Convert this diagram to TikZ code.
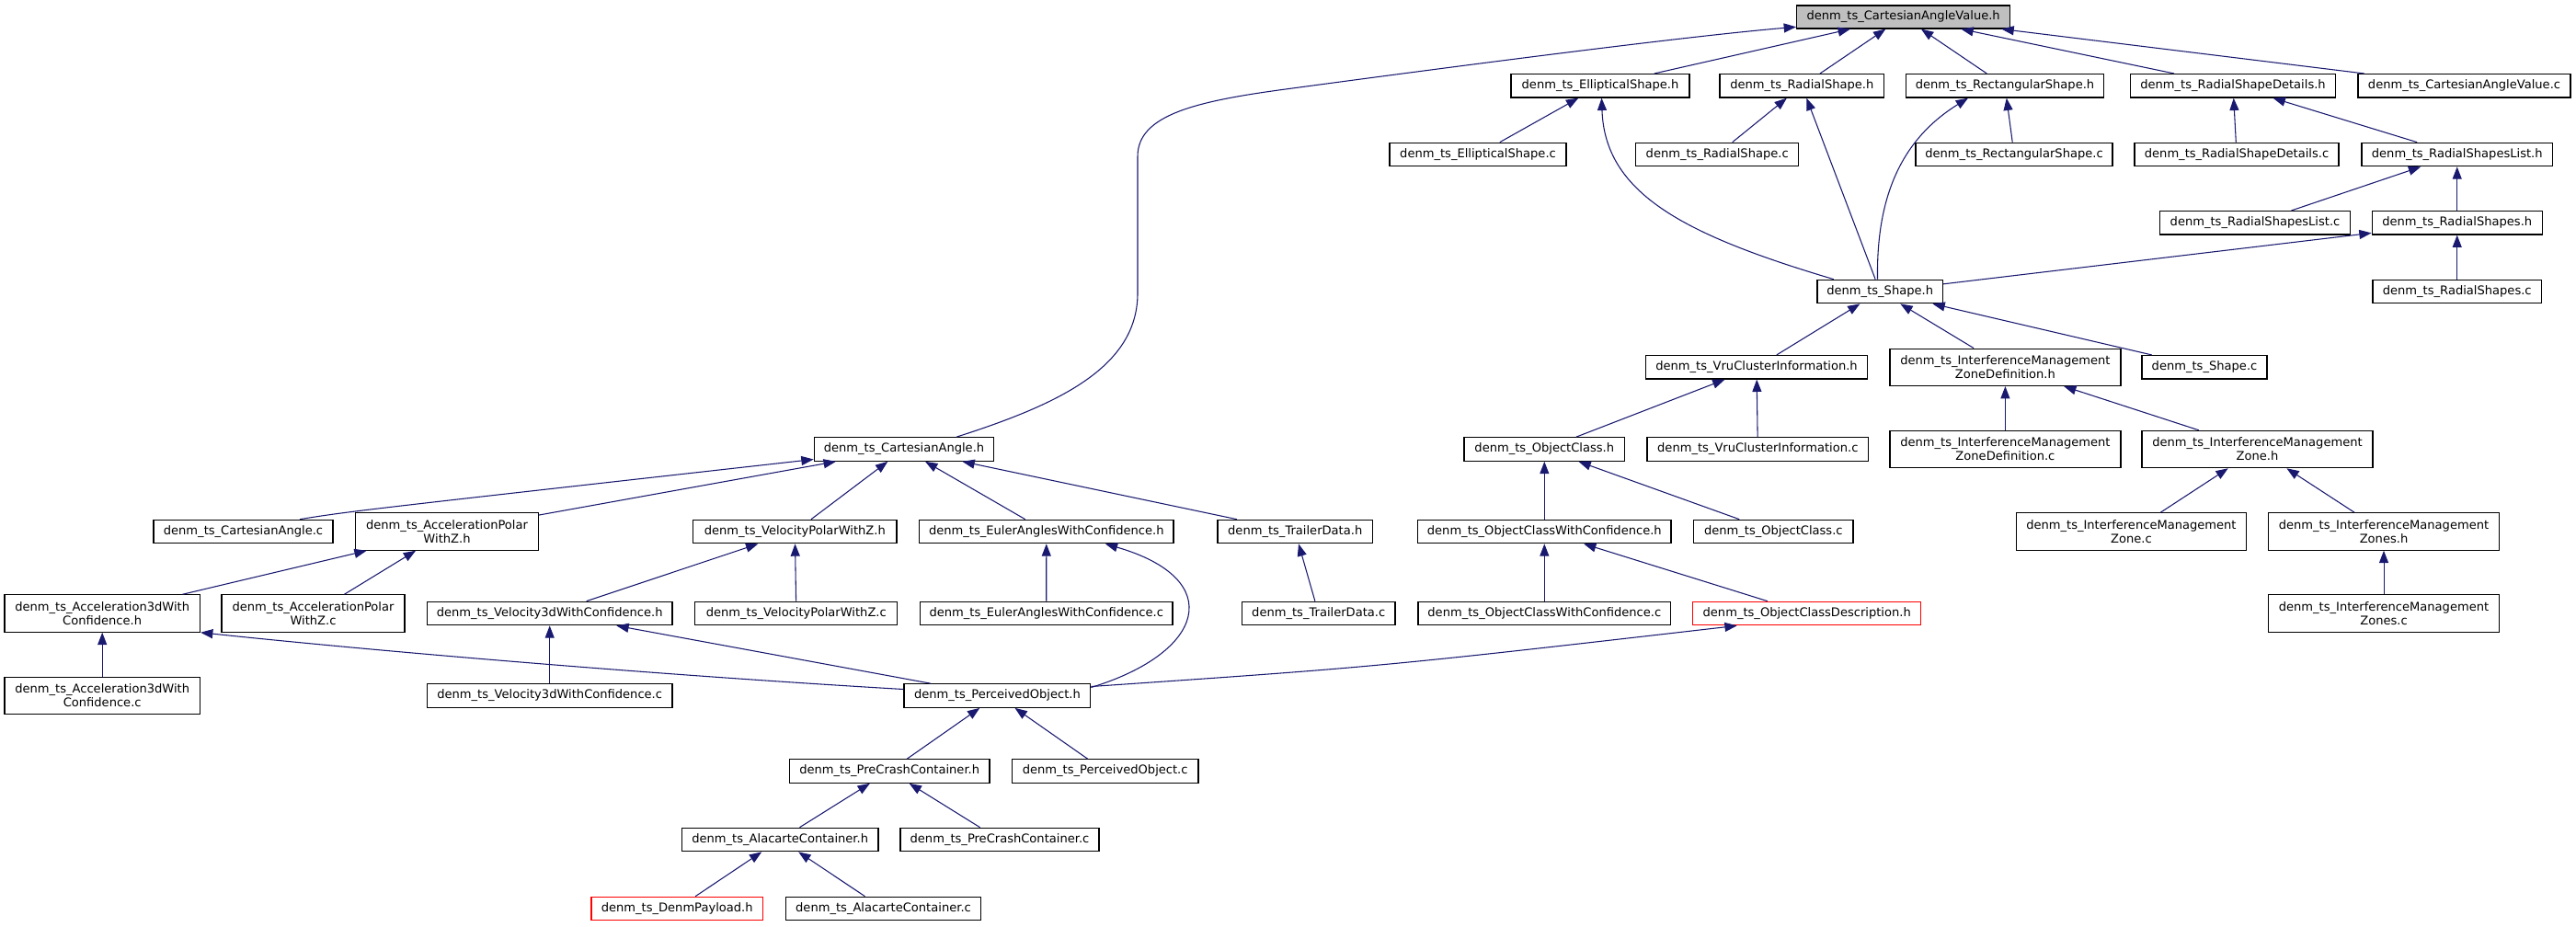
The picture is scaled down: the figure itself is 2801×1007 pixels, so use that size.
\documentclass[tikz,border=0pt]{standalone}
\usepackage{fontspec}
\setmainfont{DejaVu Sans}
\usetikzlibrary{arrows.meta,calc}
\definecolor{edgecol}{HTML}{191970}
\definecolor{topfill}{HTML}{BFBFBF}
\begin{document}
\begin{tikzpicture}[x=0.75pt,y=-0.75pt,
  bx/.style 2 args={draw=black, fill=white, line width=0.9pt, rectangle, inner sep=0pt,
    minimum width=#1*0.75pt, minimum height=#2*0.75pt, align=center,
    font=\fontsize{9.8pt}{11.25pt}\selectfont},
  redbox/.style={draw=red},
  ed/.style={draw=edgecol, line width=0.8pt, -{Triangle[length=10pt,width=7.5pt]}}]
\fill[white] (0,0) rectangle (2801,1007);
\useasboundingbox (0,0) rectangle (2801,1007);
% row 1
\node[bx={232}{25}, fill=topfill] (cavH) at (2069.6,18.5) {denm\_ts\_CartesianAngleValue.h};
% row 2
\node[bx={194}{25.5}] (ellH) at (1740,93.3) {denm\_ts\_EllipticalShape.h};
\node[bx={178.7}{25.5}] (radH) at (1959.3,93.3) {denm\_ts\_RadialShape.h};
\node[bx={214.7}{25.5}] (rectH) at (2180,93.3) {denm\_ts\_RectangularShape.h};
\node[bx={223.7}{25.5}] (rsdH) at (2428,93.3) {denm\_ts\_RadialShapeDetails.h};
\node[bx={231}{25.5}] (cavC) at (2679.5,93.3) {denm\_ts\_CartesianAngleValue.c};
% row 3
\node[bx={192}{25.5}] (ellC) at (1607,168) {denm\_ts\_EllipticalShape.c};
\node[bx={177}{25.5}] (radC) at (1867.2,168) {denm\_ts\_RadialShape.c};
\node[bx={214}{25.5}] (rectC) at (2190,168) {denm\_ts\_RectangularShape.c};
\node[bx={222}{25.5}] (rsdC) at (2432,168) {denm\_ts\_RadialShapeDetails.c};
\node[bx={207.5}{25.5}] (rslH) at (2671.7,168) {denm\_ts\_RadialShapesList.h};
% row 4
\node[bx={206.7}{25.5}] (rslC) at (2452,242.3) {denm\_ts\_RadialShapesList.c};
\node[bx={185}{25.5}] (rssH) at (2671.7,242.3) {denm\_ts\_RadialShapes.h};
% row 5
\node[bx={136.6}{25.5}] (shapeH) at (2044.2,317) {denm\_ts\_Shape.h};
\node[bx={183.4}{25.5}] (rssC) at (2671.7,317) {denm\_ts\_RadialShapes.c};
% row 6
\node[bx={241.5}{25.5}] (vruH) at (1910,399.3) {denm\_ts\_VruClusterInformation.h};
\node[bx={251}{40.3}] (imzdH) at (2180.4,399.3) {denm\_ts\_InterferenceManagement\\ZoneDefinition.h};
\node[bx={136}{25.5}] (shapeC) at (2397,399.3) {denm\_ts\_Shape.c};
% row 7
\node[bx={195.5}{25.5}] (caH) at (983,488.5) {denm\_ts\_CartesianAngle.h};
\node[bx={174.5}{25.5}] (ocH) at (1679.3,488.5) {denm\_ts\_ObjectClass.h};
\node[bx={240.7}{25.5}] (vruC) at (1911.3,488.5) {denm\_ts\_VruClusterInformation.c};
\node[bx={251}{40.3}] (imzdC) at (2180.4,488.5) {denm\_ts\_InterferenceManagement\\ZoneDefinition.c};
\node[bx={251}{40.3}] (imzH) at (2454.5,488.5) {denm\_ts\_InterferenceManagement\\Zone.h};
% row 8
\node[bx={195}{25.5}] (caC) at (264.5,578) {denm\_ts\_CartesianAngle.c};
\node[bx={198.7}{40.3}] (apzH) at (486,578) {denm\_ts\_AccelerationPolar\\WithZ.h};
\node[bx={221.4}{25.5}] (vpzH) at (864.3,578) {denm\_ts\_VelocityPolarWithZ.h};
\node[bx={276.3}{25.5}] (eulH) at (1137.8,578) {denm\_ts\_EulerAnglesWithConfidence.h};
\node[bx={168.4}{25.5}] (trlH) at (1408.2,578) {denm\_ts\_TrailerData.h};
\node[bx={275.5}{25.5}] (ocwcH) at (1679.3,578) {denm\_ts\_ObjectClassWithConfidence.h};
\node[bx={173.5}{25.5}] (ocC) at (1928.3,578) {denm\_ts\_ObjectClass.c};
\node[bx={250}{40.3}] (imzC) at (2317.4,578) {denm\_ts\_InterferenceManagement\\Zone.c};
\node[bx={251}{40.3}] (imzsH) at (2592,578) {denm\_ts\_InterferenceManagement\\Zones.h};
% row 9
\node[bx={212.5}{40.3}] (a3dH) at (111.2,667) {denm\_ts\_Acceleration3dWith\\Confidence.h};
\node[bx={199}{40.3}] (apzC) at (340.5,667) {denm\_ts\_AccelerationPolar\\WithZ.c};
\node[bx={266.7}{25.5}] (v3dH) at (597.7,667) {denm\_ts\_Velocity3dWithConfidence.h};
\node[bx={220}{25.5}] (vpzC) at (865.8,667) {denm\_ts\_VelocityPolarWithZ.c};
\node[bx={274.6}{25.5}] (eulC) at (1137.7,667) {denm\_ts\_EulerAnglesWithConfidence.c};
\node[bx={166.6}{25.5}] (trlC) at (1433.7,667) {denm\_ts\_TrailerData.c};
\node[bx={274.5}{25.5}] (ocwcC) at (1679.3,667) {denm\_ts\_ObjectClassWithConfidence.c};
\node[bx={248.2}{25.5}, redbox] (ocdH) at (1964.7,667) {denm\_ts\_ObjectClassDescription.h};
\node[bx={251}{40.3}] (imzsC) at (2592,667) {denm\_ts\_InterferenceManagement\\Zones.c};
% row 10
\node[bx={212.5}{40.3}] (a3dC) at (111.2,756.5) {denm\_ts\_Acceleration3dWith\\Confidence.c};
\node[bx={266.7}{25.5}] (v3dC) at (597.7,756.5) {denm\_ts\_Velocity3dWithConfidence.c};
\node[bx={202.7}{25.5}] (poH) at (1084.4,756.5) {denm\_ts\_PerceivedObject.h};
% row 11
\node[bx={217.4}{25.5}] (pccH) at (967.2,838.5) {denm\_ts\_PreCrashContainer.h};
\node[bx={202.6}{25.5}] (poC) at (1201.7,838.5) {denm\_ts\_PerceivedObject.c};
% row 12
\node[bx={213.4}{25.5}] (acH) at (848.2,913) {denm\_ts\_AlacarteContainer.h};
\node[bx={216}{25.5}] (pccC) at (1087,913) {denm\_ts\_PreCrashContainer.c};
% row 13
\node[bx={186.6}{25.5}, redbox] (dpH) at (736.2,988) {denm\_ts\_DenmPayload.h};
\node[bx={212}{25.5}] (acC) at (960.5,988) {denm\_ts\_AlacarteContainer.c};

% straight edges (child -> included header)
\foreach \c/\p in {ellH/cavH, radH/cavH, rectH/cavH, rsdH/cavH, cavC/cavH,
  ellC/ellH, radC/radH, shapeH/radH, rectC/rectH, rsdC/rsdH, rslH/rsdH,
  rslC/rslH, rssH/rslH, shapeH/rssH, rssC/rssH,
  vruH/shapeH, imzdH/shapeH, shapeC/shapeH, ocH/vruH, vruC/vruH,
  imzdC/imzdH, imzH/imzdH, imzC/imzH, imzsH/imzH, imzsC/imzsH,
  ocwcH/ocH, ocC/ocH, ocwcC/ocwcH, ocdH/ocwcH,
  apzH/caH, vpzH/caH, eulH/caH, trlH/caH,
  a3dH/apzH, apzC/apzH, v3dH/vpzH, vpzC/vpzH, eulC/eulH, trlC/trlH,
  a3dC/a3dH, v3dC/v3dH, poH/v3dH,
  pccH/poH, poC/poH, acH/pccH, pccC/pccH, dpH/acH, acC/acH}
  \draw[ed] (\c) -- (\p);

% curved edges
\draw[ed] ($(caH.north)+(57,0)$) .. controls (1150,440) and (1236,400) .. (1237,320)
  -- (1237,170) .. controls (1237,125) and (1300,110) .. (1400,96.7)
  .. controls (1650,63) and (1850,38) .. ($(cavH.west)+(0,10.8)$);
\draw[ed] ($(shapeH.north)+(-50.4,0)$) .. controls (1830,255) and (1745,210) .. ($(ellH.south)+(1.5,0)$);
\draw[ed] ($(shapeH.north)+(-2.7,0)$) .. controls (2040,210) and (2070,150) .. ($(rectH.south)+(-40,0)$);
\draw[ed] ($(caC.north)+(61.5,0)$) .. controls (380,556) .. ($(caH.west)+(0,11)$);
\draw[ed] ($(poH.east)+(0,-9)$) .. controls (1310,710) and (1335,630) .. ($(eulH.south)+(64,0)$);
\draw[ed] ($(poH.east)+(0,-10)$) .. controls (1500,725) .. ($(ocdH.south)+(-76,0)$);
\draw[ed] ($(poH.west)+(0,-7)$) .. controls (700,733) and (400,707) .. (a3dH.south east);
\end{tikzpicture}
\end{document}
